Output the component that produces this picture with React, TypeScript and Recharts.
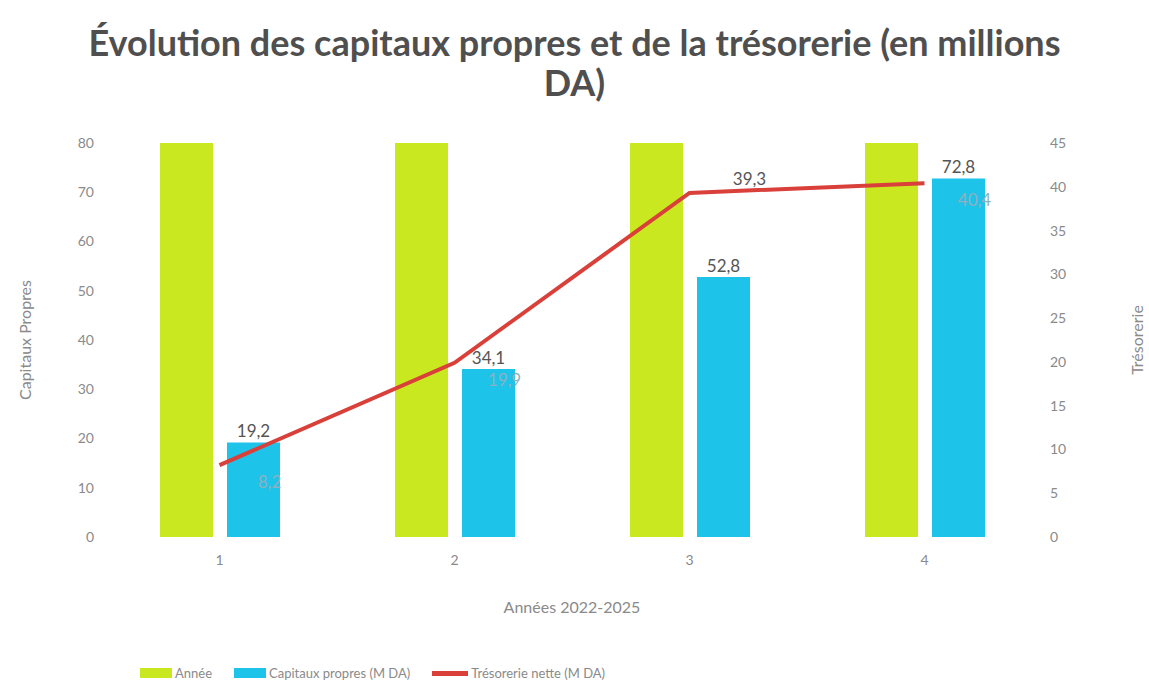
import { Bar, ComposedChart, LabelList, Legend, Line, XAxis, YAxis } from 'recharts';

const categories = ['1', '2', '3', '4'];
const anneeValues = [2022, 2023, 2024, 2025];
const capitauxValues = [19.2, 34.1, 52.8, 72.8];
const tresorerieValues = [8.2, 19.9, 39.3, 40.4];
const leftTicks = [0, 10, 20, 30, 40, 50, 60, 70, 80];
const rightTicks = [0, 5, 10, 15, 20, 25, 30, 35, 40, 45];

const GREEN = '#c9e81f';
const BLUE = '#1ec3ea';
const RED = '#d9403a';
const FONT = 'Lato, "Open Sans", sans-serif';
const TICK_STYLE = { fill: '#8a8a8a', fontSize: 14, fontFamily: FONT } as const;

const data = categories.map((c, i) => ({
  cat: c,
  annee: anneeValues[i],
  capitaux: capitauxValues[i],
  tresorerie: tresorerieValues[i],
}));

const fmt = (v: number) => v.toFixed(1).replace('.', ',');

function TresoLabel(props: any) {
  const { x, y, value, index } = props;
  // the third label sits above the flat part of the line, the others fall on the blue bars
  if (index === 2) {
    return (
      <text x={x + 60} y={y - 8} textAnchor="middle" fill="#555" fontSize={17} fontFamily={FONT}>
        {fmt(value)}
      </text>
    );
  }
  return (
    <text x={x + 50} y={y + 23} textAnchor="middle" fill="#8fb0c0" fontSize={17} fontFamily={FONT}>
      {fmt(value)}
    </text>
  );
}

function LegendContent() {
  const items = [
    { label: 'Année', color: GREEN, kind: 'box' },
    { label: 'Capitaux propres (M DA)', color: BLUE, kind: 'box' },
    { label: 'Trésorerie nette (M DA)', color: RED, kind: 'line' },
  ];
  return (
    <div
      style={{
        height: 70,
        boxSizing: 'border-box',
        paddingTop: 50,
        display: 'flex',
        justifyContent: 'flex-start',
        paddingLeft: 98,
        gap: 22,
        fontFamily: FONT,
        fontSize: 13,
        color: '#8a8a8a',
      }}
    >
      {items.map((it) => (
        <div key={it.label} style={{ display: 'flex', alignItems: 'center', height: 16 }}>
          <span
            style={{
              display: 'inline-block',
              width: it.kind === 'box' ? 32 : 36,
              height: it.kind === 'box' ? 10 : 5,
              background: it.color,
              marginRight: 3,
            }}
          />
          {it.label}
        </div>
      ))}
    </div>
  );
}

export default function App() {
  return (
    <div style={{ position: 'absolute', left: 0, top: 0, width: 1149, height: 690, background: '#fff' }}>
      <div
        style={{
          position: 'absolute',
          left: 0,
          top: 22,
          width: 1149,
          textAlign: 'center',
          fontFamily: FONT,
          fontWeight: 700,
          fontSize: 36,
          lineHeight: '40px',
          color: '#4f4f4f',
        }}
      >
        Évolution des capitaux propres et de la trésorerie (en millions
        <br />
        DA)
      </div>
      <ComposedChart
        width={1149}
        height={690}
        data={data}
        margin={{ top: 143, right: 47, bottom: 5, left: 42 }}
        barSize={53}
        barGap={14}
      >
        <XAxis
          dataKey="cat"
          axisLine={false}
          tickLine={false}
          tick={TICK_STYLE}
          tickMargin={12}
          height={78}
          label={{ value: 'Années 2022-2025', position: 'insideBottom', offset: 2, fill: '#8a8a8a', fontSize: 16, fontFamily: FONT }}
        />
        <YAxis
          yAxisId="left"
          domain={[0, 80]}
          ticks={leftTicks}
          allowDataOverflow
          axisLine={false}
          tickLine={false}
          tick={TICK_STYLE}
          width={60}
          label={{ value: 'Capitaux Propres', angle: -90, position: 'insideLeft', offset: -17, fill: '#8a8a8a', fontSize: 16, fontFamily: FONT, style: { textAnchor: 'middle' } }}
        />
        <YAxis
          yAxisId="right"
          orientation="right"
          domain={[0, 45]}
          ticks={rightTicks}
          allowDataOverflow
          axisLine={false}
          tickLine={false}
          tick={TICK_STYLE}
          width={60}
          label={{ value: 'Trésorerie', angle: -90, position: 'insideRight', offset: -35, fill: '#8a8a8a', fontSize: 16, fontFamily: FONT, style: { textAnchor: 'middle' } }}
        />
        <Bar yAxisId="left" dataKey="annee" name="Année" fill={GREEN} isAnimationActive={false} />
        <Bar yAxisId="left" dataKey="capitaux" name="Capitaux propres (M DA)" fill={BLUE} isAnimationActive={false}>
          <LabelList dataKey="capitaux" position="top" formatter={(v: any) => fmt(Number(v))} fill="#555" fontSize={17} fontFamily={FONT} />
        </Bar>
        <Line
          yAxisId="right"
          dataKey="tresorerie"
          name="Trésorerie nette (M DA)"
          stroke={RED}
          strokeWidth={4}
          dot={false}
          isAnimationActive={false}
        >
          <LabelList dataKey="tresorerie" content={TresoLabel} />
        </Line>
        <Legend verticalAlign="bottom" height={70} content={LegendContent} />
      </ComposedChart>
    </div>
  );
}
